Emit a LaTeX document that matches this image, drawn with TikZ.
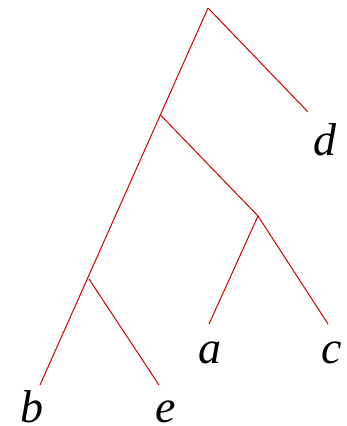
\documentclass[tikz,border=0pt]{standalone}
\usepackage{fontspec}
\setmainfont{Liberation Serif}
\usetikzlibrary{positioning}
\definecolor{branchred}{RGB}{204,0,0}
\tikzset{
  branch/.style={draw=branchred,line width=1pt},
  leaf/.style={anchor=base,inner sep=0pt,text depth=0pt,font=\fontsize{46}{46}\selectfont\itshape}
}
\begin{document}
\begin{tikzpicture}[x=1pt,y=-1pt]
  \useasboundingbox (0,0) rectangle (346,426);
  % inner vertices
  \coordinate (root) at (208,8);
  \coordinate (nabce) at (160.5,115);
  \coordinate (nac) at (258,216);
  \coordinate (nbe) at (89,279);
  % tips of the branches
  \coordinate (td) at (308,112);
  \coordinate (ta) at (209,324);
  \coordinate (tc) at (328,324);
  \coordinate (tb) at (40,385);
  \coordinate (te) at (159,385);
  % leaf labels
  \node[leaf] (d) at (325,155) {d};
  \node[leaf] (a) at (210,363) {a};
  \node[leaf] (c) at (332,363) {c};
  \node[leaf] (b) at (32,422) {b};
  \node[leaf] (e) at (166,422) {e};
  % branches
  \draw[branch] (root) -- (td);
  \draw[branch] (root) -- (tb);
  \draw[branch] (nabce) -- (nac);
  \draw[branch] (nac) -- (ta);
  \draw[branch] (nac) -- (tc);
  \draw[branch] (nbe) -- (te);
\end{tikzpicture}
\end{document}
